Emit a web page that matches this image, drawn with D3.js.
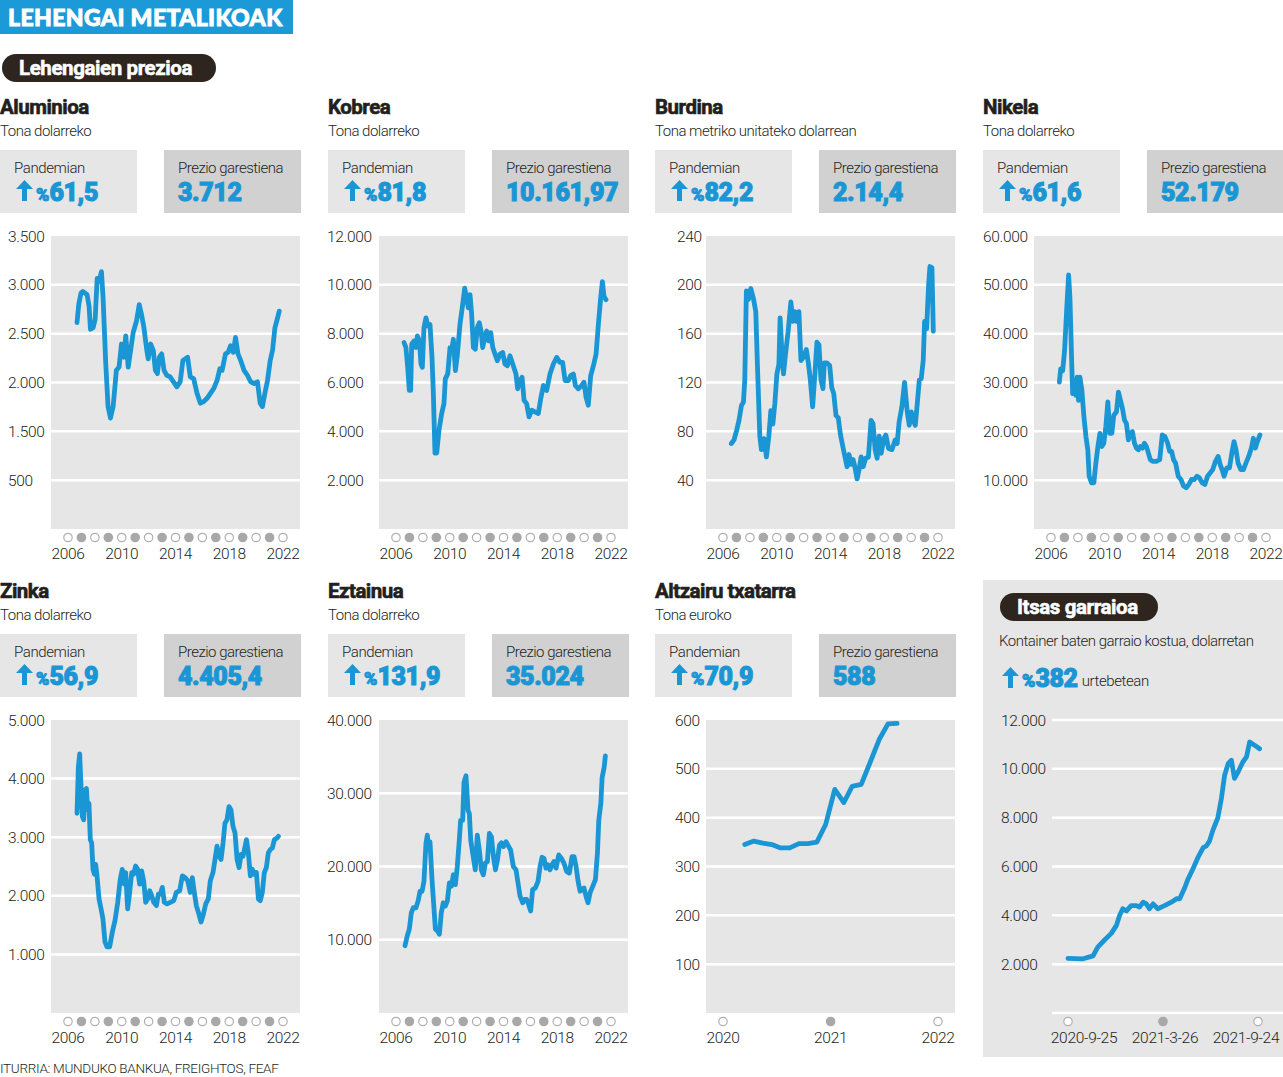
<!DOCTYPE html>
<html>
<head>
<meta charset="utf-8">
<script src="https://cdn.jsdelivr.net/npm/d3@7"></script>
<style>
  html, body { margin: 0; padding: 0; background: #fff; }
  svg { display: block; }
  text { font-family: Roboto, "Open Sans", sans-serif; }
</style>
</head>
<body>
<svg id="chart" width="1283" height="1077"></svg>
<script>
// ---------------- DATA ----------------
const yearTicks = [2006, 2010, 2014, 2018, 2022];
const yearDots = d3.range(2006, 2023);

const aluminium = [[2006.67,2613],[2006.8,2798],[2006.97,2916],[2007.1,2933],[2007.42,2900],[2007.57,2781],[2007.67,2545],[2007.87,2562],[2008.02,2646],[2008.17,3067],[2008.31,3034],[2008.49,3135],[2008.61,2865],[2008.81,2192],[2008.98,1754],[2009.16,1636],[2009.36,1754],[2009.6,2125],[2009.8,2158],[2009.98,2394],[2010.15,2259],[2010.3,2478],[2010.48,2158],[2010.73,2394],[2010.85,2512],[2011.1,2630],[2011.3,2798],[2011.47,2697],[2011.65,2562],[2011.85,2343],[2011.97,2242],[2012.15,2394],[2012.35,2327],[2012.5,2125],[2012.65,2091],[2012.8,2259],[2012.97,2293],[2013.15,2125],[2013.35,2074],[2013.6,2057],[2013.85,2007],[2014.1,1956],[2014.35,2007],[2014.55,2226],[2014.72,2242],[2014.9,2259],[2015.1,2057],[2015.35,2040],[2015.6,1889],[2015.85,1788],[2016.1,1805],[2016.35,1838],[2016.6,1889],[2016.85,1939],[2017.1,2024],[2017.3,2141],[2017.47,2125],[2017.72,2293],[2017.92,2310],[2018.1,2377],[2018.3,2310],[2018.47,2461],[2018.65,2293],[2018.85,2226],[2019.1,2125],[2019.35,2074],[2019.6,2007],[2019.85,1990],[2020.1,2007],[2020.3,1788],[2020.47,1754],[2020.65,1889],[2020.85,2024],[2021.05,2226],[2021.22,2327],[2021.4,2562],[2021.6,2663],[2021.72,2731]];

const copper = [[2006.6,7635],[2006.74,7432],[2006.87,6622],[2006.99,5676],[2007.09,5676],[2007.17,7568],[2007.34,7703],[2007.49,7432],[2007.59,7905],[2007.74,7703],[2007.86,6757],[2007.96,6622],[2008.08,8243],[2008.23,8649],[2008.38,8311],[2008.53,8378],[2008.68,7027],[2008.78,5541],[2008.9,3108],[2009.03,3108],[2009.2,4054],[2009.4,4730],[2009.57,5135],[2009.67,6149],[2009.85,6351],[2010.02,7432],[2010.17,7432],[2010.27,7770],[2010.42,6486],[2010.56,7095],[2010.76,8378],[2010.96,9189],[2011.11,9865],[2011.26,9459],[2011.38,9054],[2011.51,9595],[2011.63,8784],[2011.76,7432],[2011.9,7365],[2012.05,8243],[2012.2,8446],[2012.33,8108],[2012.45,7432],[2012.6,7838],[2012.75,8108],[2012.9,7703],[2013.05,8041],[2013.2,7432],[2013.37,7162],[2013.54,6892],[2013.74,7162],[2013.94,7230],[2014.11,6757],[2014.29,6689],[2014.48,7095],[2014.73,6689],[2014.93,6351],[2015.05,5743],[2015.23,6081],[2015.38,6216],[2015.53,5270],[2015.72,5135],[2015.9,4595],[2016.1,4865],[2016.34,4797],[2016.59,4730],[2016.77,5338],[2016.97,5878],[2017.21,5676],[2017.46,6351],[2017.71,6757],[2017.96,7027],[2018.2,6824],[2018.4,6824],[2018.58,6081],[2018.83,6081],[2019.0,6284],[2019.2,6351],[2019.35,5878],[2019.57,5743],[2019.82,5878],[2019.99,6014],[2020.14,5405],[2020.31,5068],[2020.49,6284],[2020.69,6689],[2020.89,7162],[2021.06,8378],[2021.23,9459],[2021.36,10135],[2021.48,9527],[2021.63,9392]];

const iron = [[2006.62,70],[2006.82,73],[2007.02,81],[2007.19,89],[2007.37,101],[2007.52,104],[2007.62,122],[2007.74,195],[2007.89,188],[2008.07,197],[2008.26,189],[2008.44,178],[2008.56,135],[2008.74,76],[2008.86,65],[2009.06,74],[2009.23,59],[2009.41,76],[2009.56,97],[2009.71,86],[2009.86,103],[2010.01,127],[2010.16,135],[2010.25,173],[2010.38,146],[2010.5,127],[2010.65,143],[2010.85,162],[2011.05,186],[2011.2,170],[2011.35,178],[2011.5,170],[2011.65,178],[2011.8,138],[2012.0,141],[2012.2,147],[2012.35,136],[2012.5,122],[2012.67,100],[2012.84,127],[2012.99,153],[2013.14,151],[2013.29,122],[2013.44,115],[2013.54,136],[2013.74,136],[2013.94,134],[2014.09,116],[2014.24,111],[2014.41,93],[2014.58,91],[2014.73,78],[2014.91,68],[2015.08,59],[2015.23,51],[2015.38,61],[2015.53,53],[2015.68,57],[2015.83,50],[2015.98,41],[2016.13,49],[2016.28,59],[2016.43,51],[2016.62,58],[2016.82,59],[2017.02,89],[2017.17,86],[2017.32,65],[2017.47,58],[2017.62,76],[2017.77,62],[2017.97,74],[2018.12,77],[2018.32,66],[2018.57,65],[2018.81,73],[2018.96,70],[2019.11,88],[2019.31,100],[2019.51,120],[2019.71,96],[2019.86,85],[2020.01,96],[2020.16,89],[2020.31,85],[2020.46,103],[2020.61,122],[2020.75,123],[2020.9,138],[2021.0,170],[2021.15,164],[2021.3,200],[2021.4,215],[2021.55,214],[2021.65,162]];

const nickel = [[2006.62,30068],[2006.72,32770],[2006.87,32432],[2007.01,36486],[2007.16,44595],[2007.31,52027],[2007.41,47297],[2007.53,35135],[2007.61,27703],[2007.76,30405],[2007.85,27365],[2007.95,31081],[2008.05,26351],[2008.15,31081],[2008.3,28378],[2008.45,22973],[2008.6,18919],[2008.74,16216],[2008.84,10811],[2009.02,9459],[2009.19,9459],[2009.34,13514],[2009.49,16892],[2009.64,19595],[2009.78,16892],[2009.93,17568],[2010.08,20946],[2010.23,26014],[2010.38,19595],[2010.53,19595],[2010.67,23311],[2010.87,23986],[2011.02,28041],[2011.17,26351],[2011.32,24662],[2011.47,22297],[2011.61,21622],[2011.76,18243],[2011.91,19595],[2012.06,19932],[2012.21,17568],[2012.36,16554],[2012.5,16216],[2012.65,16892],[2012.8,16554],[2012.95,17568],[2013.1,16892],[2013.25,15541],[2013.39,14189],[2013.59,13851],[2013.84,13851],[2014.09,14189],[2014.28,19257],[2014.48,18919],[2014.68,17568],[2014.83,15878],[2014.98,15878],[2015.12,14189],[2015.27,13514],[2015.47,10811],[2015.67,10135],[2015.87,8784],[2016.06,8446],[2016.26,9122],[2016.46,10135],[2016.66,10135],[2016.86,10811],[2017.05,10473],[2017.25,9459],[2017.45,9122],[2017.65,10811],[2017.84,11486],[2018.04,12162],[2018.24,13851],[2018.44,14865],[2018.59,13176],[2018.73,12162],[2018.88,10811],[2019.08,12500],[2019.28,12500],[2019.48,15878],[2019.62,17905],[2019.77,16216],[2019.92,13514],[2020.12,12162],[2020.32,12162],[2020.51,13514],[2020.71,14865],[2020.91,16554],[2021.06,18581],[2021.21,16554],[2021.36,17905],[2021.55,19257]];

const zinc = [[2006.67,3409],[2006.77,4197],[2006.87,4422],[2006.97,3859],[2007.07,3353],[2007.17,3296],[2007.27,3803],[2007.37,3831],[2007.46,3465],[2007.56,3578],[2007.66,2959],[2007.76,2902],[2007.86,2452],[2007.96,2368],[2008.06,2537],[2008.16,2340],[2008.31,1946],[2008.46,1777],[2008.6,1608],[2008.75,1214],[2008.9,1130],[2009.1,1130],[2009.3,1383],[2009.5,1580],[2009.7,1889],[2009.89,2283],[2010.04,2452],[2010.19,2199],[2010.29,2396],[2010.44,1777],[2010.59,2058],[2010.74,2396],[2010.88,2368],[2011.03,2508],[2011.18,2452],[2011.33,2199],[2011.48,2424],[2011.63,2255],[2011.78,1889],[2011.93,1946],[2012.08,2086],[2012.23,2002],[2012.38,1889],[2012.58,1833],[2012.72,2030],[2012.87,2030],[2013.02,2143],[2013.17,1889],[2013.37,1861],[2013.62,1889],[2013.87,1917],[2014.06,2058],[2014.31,2086],[2014.51,2340],[2014.71,2311],[2014.91,2255],[2015.1,2058],[2015.25,2311],[2015.4,2058],[2015.55,1833],[2015.7,1720],[2015.9,1552],[2016.05,1664],[2016.25,1861],[2016.44,1946],[2016.59,2255],[2016.79,2396],[2016.94,2621],[2017.09,2846],[2017.24,2677],[2017.39,2621],[2017.54,2902],[2017.68,3240],[2017.83,3296],[2017.98,3522],[2018.13,3465],[2018.28,3184],[2018.43,3071],[2018.58,2621],[2018.73,2480],[2018.88,2705],[2019.03,2677],[2019.18,2846],[2019.28,2959],[2019.42,2734],[2019.57,2340],[2019.72,2452],[2019.87,2368],[2020.02,2396],[2020.17,1946],[2020.31,1917],[2020.46,2058],[2020.61,2396],[2020.76,2480],[2020.91,2734],[2021.06,2790],[2021.21,2818],[2021.36,2959],[2021.56,2987],[2021.66,3015]];

const tin = [[2006.67,9189],[2006.84,10541],[2006.99,11441],[2007.14,13694],[2007.29,14369],[2007.49,14369],[2007.64,15270],[2007.79,16622],[2007.94,16622],[2008.08,17973],[2008.23,23153],[2008.33,24279],[2008.43,22703],[2008.53,23378],[2008.68,18198],[2008.83,14144],[2008.93,11441],[2009.08,11216],[2009.23,10766],[2009.37,13694],[2009.52,15045],[2009.67,14595],[2009.82,15270],[2009.97,17748],[2010.12,17297],[2010.27,18874],[2010.42,17523],[2010.56,20000],[2010.71,23604],[2010.81,26306],[2010.96,26306],[2011.06,31486],[2011.21,32387],[2011.36,27658],[2011.46,27207],[2011.56,23604],[2011.71,21802],[2011.9,19550],[2012.05,24279],[2012.2,22252],[2012.35,19550],[2012.5,18874],[2012.65,20450],[2012.8,20676],[2012.95,24505],[2013.1,24054],[2013.25,21351],[2013.4,19550],[2013.55,20901],[2013.7,22928],[2013.85,23243],[2014.0,22703],[2014.19,23378],[2014.39,22703],[2014.53,22252],[2014.73,20000],[2014.93,19550],[2015.08,17748],[2015.23,15946],[2015.43,15045],[2015.58,15495],[2015.72,15495],[2015.87,14820],[2016.02,13919],[2016.17,16847],[2016.37,17072],[2016.57,17973],[2016.72,20000],[2016.87,21261],[2017.01,21126],[2017.16,19775],[2017.31,20225],[2017.46,19550],[2017.61,20225],[2017.76,20676],[2017.91,19775],[2018.11,21577],[2018.3,21126],[2018.5,20450],[2018.7,19324],[2018.9,19099],[2019.1,21351],[2019.25,21351],[2019.4,20000],[2019.55,17973],[2019.7,16622],[2019.85,16847],[2019.99,17072],[2020.14,15946],[2020.29,15045],[2020.44,16396],[2020.64,17297],[2020.84,18198],[2020.99,21802],[2021.09,26306],[2021.24,28559],[2021.34,32162],[2021.49,33514],[2021.58,35090]];

const steelMonths = ["2020-03","2020-04","2020-05","2020-06","2020-07","2020-08","2020-09","2020-10","2020-11","2020-12","2021-01","2021-02","2021-03","2021-04","2021-05","2021-06","2021-07","2021-08"];
const steelValues = [345,352,348,345,338,338,347,347,350,386,458,431,464,468,513,560,592,593];
const steelYearTicks = [2020, 2021, 2022];

const shipDates = ["2020-09-25","2020-10-24","2020-11-12","2020-11-21","2020-12-04","2020-12-17","2020-12-27","2021-01-02","2021-01-08","2021-01-15","2021-01-24","2021-02-03","2021-02-09","2021-02-16","2021-02-22","2021-02-28","2021-03-07","2021-03-16","2021-03-29","2021-04-11","2021-04-21","2021-04-27","2021-05-07","2021-05-13","2021-05-22","2021-06-01","2021-06-11","2021-06-17","2021-06-23","2021-06-30","2021-07-09","2021-07-16","2021-07-22","2021-07-29","2021-08-04","2021-08-10","2021-08-17","2021-08-26","2021-09-02","2021-09-08","2021-09-18","2021-09-27"];
const shipValues = [2240,2220,2340,2700,2990,3260,3600,4000,4270,4180,4400,4400,4340,4540,4470,4270,4470,4270,4400,4540,4680,4680,5150,5490,5890,6370,6770,6840,7040,7510,7990,8800,9740,10220,10350,9610,9880,10280,10490,11100,10960,10820];
const shipTickDates = ["2020-09-25","2021-03-26","2021-09-24"];
const shipTickLabels = ["2020-9-25","2021-3-26","2021-9-24"];
const shipYTicks = [0,2000,4000,6000,8000,10000,12000];

const titles = ["Aluminioa","Kobrea","Burdina","Nikela","Zinka","Eztainua","Altzairu txatarra"];
const units = ["Tona dolarreko","Tona dolarreko","Tona metriko unitateko dolarrean","Tona dolarreko","Tona dolarreko","Tona dolarreko","Tona euroko"];
const pandemicRise = ["61,5","81,8","82,2","61,6","56,9","131,9","70,9"];
const maxPrice = ["3.712","10.161,97","2.14,4","52.179","4.405,4","35.024","588"];
const yDomains = [[500,3500],[0,12000],[0,240],[0,60000],[0,5000],[0,40000],[0,600]];
const yTickValues = [
  [3500,3000,2500,2000,1500,1000],
  [12000,10000,8000,6000,4000,2000],
  [240,200,160,120,80,40],
  [60000,50000,40000,30000,20000,10000],
  [5000,4000,3000,2000,1000],
  [40000,30000,20000,10000],
  [600,500,400,300,200,100]
];
const yTickLabels = [
  ["3.500","3.000","2.500","2.000","1.500","500"],
  ["12.000","10.000","8.000","6.000","4.000","2.000"],
  ["240","200","160","120","80","40"],
  ["60.000","50.000","40.000","30.000","20.000","10.000"],
  ["5.000","4.000","3.000","2.000","1.000"],
  ["40.000","30.000","20.000","10.000"],
  ["600","500","400","300","200","100"]
];

// ---------------- STYLE / LAYOUT ----------------
const BLUE = "#1a96d4";
const PLOTBG = "#e6e6e6";
const TXT = "#231f20";
const colX = [0, 328, 655, 983];
const rowY = [0, 484];
const labelOffsets = [8, -1, 22, 0, 8, -1, 20];
const shipLabelShift = [16, 2, -12];

const fmt = d3.formatLocale({decimal: ",", thousands: ".", grouping: [3], currency: ["", ""]}).format(",d");

const svg = d3.select("#chart");

// Header
svg.append("rect").attr("x", 0).attr("y", 0).attr("width", 293).attr("height", 34).attr("fill", "#1b9ad7");
svg.append("text").attr("x", 8).attr("y", 26).attr("fill", "#fff")
  .attr("stroke", "#fff").attr("stroke-width", 0.9)
  .style("font-family", "Lato, Roboto, sans-serif").style("font-weight", 900).style("font-size", "23px")
  .style("letter-spacing", "0.4px")
  .text("LEHENGAI METALIKOAK");

function pill(x, y, w, h, label, tx) {
  svg.append("rect").attr("x", x).attr("y", y).attr("width", w).attr("height", h).attr("rx", h / 2).attr("fill", "#2e251e");
  svg.append("text").attr("x", tx).attr("y", y + h / 2 + 7).attr("fill", "#fff")
    .attr("stroke", "#fff").attr("stroke-width", 0.5)
    .style("font-weight", 700).style("font-size", "20.5px").style("letter-spacing", "-0.4px").text(label);
}
pill(2, 54, 214, 28, "Lehengaien prezioa", 19);

function upArrow(g, x, yTop, color) {
  const p = d3.path();
  p.moveTo(x + 8.5, yTop);
  p.lineTo(x + 17, yTop + 9);
  p.lineTo(x + 11, yTop + 9);
  p.lineTo(x + 11, yTop + 21);
  p.lineTo(x + 6, yTop + 21);
  p.lineTo(x + 6, yTop + 9);
  p.lineTo(x, yTop + 9);
  p.closePath();
  g.append("path").attr("d", p.toString()).attr("fill", color);
}

const metalData = [aluminium, copper, iron, nickel, zinc, tin, null];

metalData.forEach((data, i) => {
  const col = colX[i % 4];
  const top = rowY[Math.floor(i / 4)];
  const g = svg.append("g").attr("transform", `translate(${col},${top})`);

  g.append("text").attr("x", 0).attr("y", 114).attr("fill", TXT)
    .attr("stroke", TXT).attr("stroke-width", 0.6)
    .style("font-weight", 700).style("font-size", "20.5px").style("letter-spacing", "-0.5px").text(titles[i]);
  g.append("text").attr("x", 0).attr("y", 136).attr("fill", TXT)
    .style("font-weight", 300).style("font-size", "15px").style("letter-spacing", "-0.5px").text(units[i]);

  // boxes
  g.append("rect").attr("x", 0).attr("y", 150).attr("width", 137).attr("height", 63).attr("fill", "#e6e6e6");
  g.append("rect").attr("x", 164).attr("y", 150).attr("width", 137).attr("height", 63).attr("fill", "#d1d1d1");
  g.append("text").attr("x", 14).attr("y", 173).attr("fill", TXT)
    .style("font-weight", 300).style("font-size", "15px").style("letter-spacing", "-0.4px").text("Pandemian");
  g.append("text").attr("x", 178).attr("y", 173).attr("fill", TXT)
    .style("font-weight", 300).style("font-size", "15px").style("letter-spacing", "-0.5px").text("Prezio garestiena");
  upArrow(g, 16, 180, BLUE);
  const t = g.append("text").attr("x", 36).attr("y", 201).attr("fill", BLUE)
    .attr("stroke", BLUE).attr("stroke-width", 1).style("font-weight", 900);
  t.append("tspan").style("font-size", "18px").text("%");
  t.append("tspan").style("font-size", "25px").style("letter-spacing", "-0.4px").text(pandemicRise[i]);
  g.append("text").attr("x", 178).attr("y", 201).attr("fill", BLUE)
    .attr("stroke", BLUE).attr("stroke-width", 1).style("font-weight", 900)
    .style("font-size", "25px").style("letter-spacing", "-0.4px").text(maxPrice[i]);

  // plot
  const px0 = 51, px1 = 300, py0 = 236, py1 = 529;
  g.append("rect").attr("x", px0).attr("y", py0).attr("width", px1 - px0).attr("height", py1 - py0).attr("fill", PLOTBG);
  const y = d3.scaleLinear().domain(yDomains[i]).range([py1, py0]);

  g.selectAll(".grid").data(yTickValues[i].filter(v => y(v) > py0 + 1)).join("line")
    .attr("x1", px0).attr("x2", px1).attr("y1", d => y(d)).attr("y2", d => y(d))
    .attr("stroke", "#fff").attr("stroke-width", 2.5);
  g.selectAll(".ylab").data(yTickValues[i]).join("text")
    .attr("x", labelOffsets[i]).attr("y", d => y(d) + 5.5).attr("fill", TXT)
    .style("font-size", "15.5px").style("font-weight", 300).style("letter-spacing", "-0.3px")
    .text((d, k) => yTickLabels[i][k]);

  let x, dots, ticks, tickFmt, lineData, xAcc;
  if (data) {
    x = d3.scaleLinear().domain([2006, 2022]).range([68, 283]);
    dots = yearDots; ticks = yearTicks; tickFmt = d => d;
    lineData = data; xAcc = d => x(d[0]);
  } else {
    x = d3.scaleTime().domain([new Date(2020, 0, 1), new Date(2022, 0, 1)]).range([723 - col, 938 - col]);
    dots = steelYearTicks.map(yv => new Date(yv, 0, 1)); ticks = dots; tickFmt = d => d.getFullYear();
    lineData = steelMonths.map((m, k) => [d3.timeParse("%Y-%m-%d")(m + "-15"), steelValues[k]]);
    xAcc = d => x(d[0]);
  }
  const dotY = 537.5;
  g.selectAll(".dot").data(dots).join("circle")
    .attr("cx", d => x(d)).attr("cy", dotY).attr("r", 4.2)
    .attr("fill", (d, k) => k % 2 ? "#a8a8a8" : "#fff")
    .attr("stroke", (d, k) => k % 2 ? "#a8a8a8" : "#b0b0b0").attr("stroke-width", 1.2);
  g.selectAll(".xlab").data(ticks).join("text")
    .attr("x", d => x(d)).attr("y", 559).attr("text-anchor", "middle").attr("fill", TXT)
    .style("font-size", "15.5px").style("font-weight", 300).style("letter-spacing", "-0.3px")
    .text(tickFmt);

  const line = d3.line().x(xAcc).y(d => y(d[1]));
  g.append("path").datum(lineData).attr("d", line).attr("fill", "none")
    .attr("stroke", BLUE).attr("stroke-width", 4.8).attr("stroke-linejoin", "round").attr("stroke-linecap", "round");
});

// ---------------- SHIPPING PANEL ----------------
{
  const g = svg.append("g");
  g.append("rect").attr("x", 983).attr("y", 580).attr("width", 300).attr("height", 477).attr("fill", PLOTBG);
  pill(1000, 593, 158, 28, "Itsas garraioa", 1017);
  g.append("text").attr("x", 999).attr("y", 646).attr("fill", TXT)
    .style("font-weight", 300).style("font-size", "15px").style("letter-spacing", "-0.5px")
    .text("Kontainer baten garraio kostua, dolarretan");
  upArrow(g, 1002, 667, BLUE);
  const t = g.append("text").attr("x", 1022).attr("y", 687).attr("fill", BLUE);
  t.append("tspan").attr("stroke", BLUE).attr("stroke-width", 1).style("font-weight", 900).style("font-size", "18px").text("%");
  t.append("tspan").attr("stroke", BLUE).attr("stroke-width", 1).style("font-weight", 900).style("font-size", "25px").style("letter-spacing", "-0.4px").text("382");
  t.append("tspan").attr("dx", 4).attr("fill", TXT).style("font-size", "15px").style("font-weight", 300)
    .style("letter-spacing", "-0.4px").attr("dy", -1).text("urtebetean");

  const parse = d3.timeParse("%Y-%m-%d");
  const x = d3.scaleTime().domain([parse(shipTickDates[0]), parse(shipTickDates[2])]).range([1068, 1258]);
  const y = d3.scaleLinear().domain([0, 12000]).range([1013, 720]);
  g.selectAll(".grid").data(shipYTicks).join("line")
    .attr("x1", 1052).attr("x2", 1283).attr("y1", d => y(d)).attr("y2", d => y(d))
    .attr("stroke", "#fff").attr("stroke-width", 2.5);
  g.selectAll(".ylab").data(shipYTicks.filter(d => d > 0)).join("text")
    .attr("x", 1001).attr("y", d => y(d) + 5.5).attr("fill", TXT)
    .style("font-size", "15.5px").style("font-weight", 300).style("letter-spacing", "-0.3px")
    .text(d => fmt(d));
  g.selectAll(".dot").data(shipTickDates).join("circle")
    .attr("cx", d => x(parse(d))).attr("cy", 1021.5).attr("r", 4.2)
    .attr("fill", (d, k) => k % 2 ? "#a8a8a8" : "#fff")
    .attr("stroke", (d, k) => k % 2 ? "#a8a8a8" : "#b0b0b0").attr("stroke-width", 1.2);
  g.selectAll(".xlab").data(shipTickDates).join("text")
    .attr("x", (d, k) => x(parse(d)) + shipLabelShift[k]).attr("y", 1043).attr("text-anchor", "middle").attr("fill", TXT)
    .style("font-size", "15.5px").style("font-weight", 300).style("letter-spacing", "-0.3px")
    .text((d, k) => shipTickLabels[k]);
  const line = d3.line().x((d, k) => x(parse(shipDates[k]))).y(d => y(d));
  g.append("path").datum(shipValues).attr("d", line).attr("fill", "none")
    .attr("stroke", BLUE).attr("stroke-width", 4.8).attr("stroke-linejoin", "round").attr("stroke-linecap", "round");
}

// Source
svg.append("text").attr("x", 0).attr("y", 1073).attr("fill", TXT)
  .style("font-size", "13.5px").style("font-weight", 300).style("letter-spacing", "-0.3px")
  .text("ITURRIA: MUNDUKO BANKUA, FREIGHTOS, FEAF");
</script>
</body>
</html>
